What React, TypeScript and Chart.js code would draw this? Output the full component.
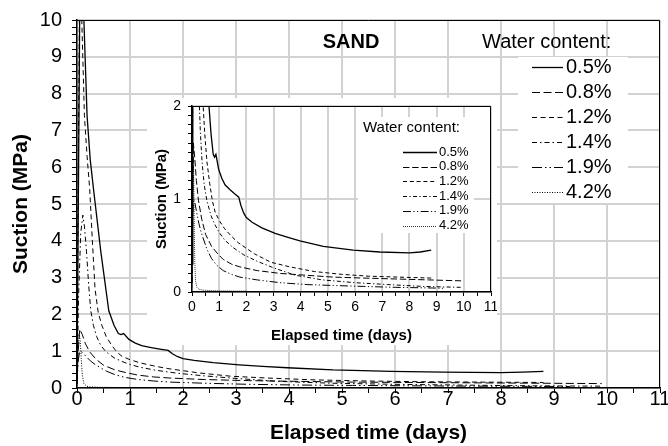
import React, { useEffect, useRef } from 'react';
import { Chart, registerables } from 'chart.js';

Chart.register(...registerables);

const FONT = '"Liberation Sans", Arial, Helvetica, sans-serif';

// ---- series labels ----
const seriesNames = ['0.5%', '0.8%', '1.2%', '1.4%', '1.9%', '4.2%'];

// ---- elapsed time (days) and suction (MPa) per series ----
const t05 = [0, 0.03, 0.06, 0.13, 0.19, 0.25, 0.32, 0.45, 0.6, 0.7, 0.78, 0.83, 0.88, 0.98, 1.1, 1.22, 1.4, 1.59, 1.72, 1.8, 1.9, 2.0, 2.21, 2.57, 3.06, 3.5, 3.97, 4.83, 5.93, 6.91, 8.0, 8.4, 8.8];
const s05 = [0.3, 6, 12, 10, 7.4, 6.2, 5.3, 3.7, 2.1, 1.7, 1.48, 1.45, 1.48, 1.32, 1.22, 1.15, 1.1, 1.05, 1.02, 0.93, 0.85, 0.8, 0.75, 0.69, 0.63, 0.59, 0.55, 0.49, 0.45, 0.43, 0.42, 0.43, 0.45];

const t08 = [0, 0.02, 0.05, 0.1, 0.16, 0.24, 0.36, 0.5, 0.72, 0.95, 1.15, 1.45, 1.76, 2.4, 3.24, 4.2, 5.2, 6.3, 7.5, 8.7, 9.9];
const s08 = [0.1, 0.9, 1.6, 1.45, 1.2, 0.98, 0.78, 0.62, 0.49, 0.41, 0.35, 0.3, 0.27, 0.23, 0.2, 0.18, 0.16, 0.15, 0.14, 0.13, 0.12];

const t12 = [0, 0.02, 0.05, 0.09, 0.14, 0.19, 0.24, 0.29, 0.34, 0.4, 0.47, 0.55, 0.65, 0.75, 0.85, 1.0, 1.2, 1.45, 1.7, 2.0, 2.3, 2.9, 3.6, 4.5, 5.5, 6.5, 7.6, 8.8];
const s12 = [0.2, 5, 11, 10, 7.4, 6.3, 5.4, 4.0, 2.7, 2.05, 1.7, 1.4, 1.17, 0.98, 0.86, 0.77, 0.68, 0.6, 0.53, 0.47, 0.41, 0.32, 0.27, 0.22, 0.19, 0.17, 0.16, 0.15];

const t14 = [0, 0.03, 0.07, 0.11, 0.14, 0.18, 0.22, 0.26, 0.31, 0.37, 0.45, 0.55, 0.7, 0.85, 1.0, 1.2, 1.5, 1.9, 2.4, 3.0, 3.8, 4.8, 6.0, 7.2, 8.5, 9.9];
const s14 = [0.2, 2.5, 4.2, 4.7, 4.4, 3.7, 2.8, 2.1, 1.7, 1.4, 1.15, 0.98, 0.82, 0.72, 0.64, 0.56, 0.48, 0.4, 0.33, 0.26, 0.18, 0.13, 0.1, 0.08, 0.06, 0.05];

const t19 = [0, 0.02, 0.05, 0.1, 0.17, 0.25, 0.34, 0.42, 0.55, 0.72, 0.9, 1.15, 1.45, 1.76, 2.4, 3.24, 4.2, 5.2, 6.3, 7.5, 8.5, 9.3];
const s19 = [0.1, 0.7, 1.0, 0.97, 0.86, 0.74, 0.64, 0.57, 0.46, 0.36, 0.29, 0.23, 0.19, 0.16, 0.13, 0.1, 0.08, 0.07, 0.06, 0.05, 0.045, 0.04];

const t42 = [0, 0.02, 0.04, 0.06, 0.08, 0.1, 0.13, 0.18, 0.25, 0.4, 0.7, 1.0, 1.5, 2.0];
const s42 = [0.05, 0.9, 1.45, 1.3, 0.8, 0.35, 0.12, 0.05, 0.03, 0.02, 0.015, 0.012, 0.01, 0.01];

const seriesTimes = [t05, t08, t12, t14, t19, t42];
const seriesSuction = [s05, s08, s12, s14, s19, s42];

// ---- tick labels ----
const mainXTicks = [0, 1, 2, 3, 4, 5, 6, 7, 8, 9, 10, 11];
const mainYTicks = [0, 1, 2, 3, 4, 5, 6, 7, 8, 9, 10];
const insetXTicks = [0, 1, 2, 3, 4, 5, 6, 7, 8, 9, 10, 11];
const insetYTicks = [0, 1, 2];

// ---- line styles ----
const dashes = [[], [8, 3.5], [5, 3.5], [5, 3, 1.5, 3], [10, 3, 1.5, 3, 1.5, 3], [1, 1.5]];
const GRID = '#d2d2d2';

const round = (v: number) => Math.round(v * 1000) / 1000;

function makeDatasets(dashScale: number, widths: number[]) {
  return seriesNames.map((name, i) => ({
    label: name,
    data: seriesTimes[i].map((x, j) => ({ x, y: seriesSuction[i][j] })),
    borderColor: '#000',
    backgroundColor: '#000',
    borderWidth: widths[i],
    borderDash: dashes[i].map((d) => d * dashScale),
    pointRadius: 0,
    pointHoverRadius: 0,
    tension: 0,
    fill: false,
  }));
}

function axis(opts: any) {
  const { min, max, step, labels, fontSize, tickLen, pad, title, titleSize, titlePad, borderW, fit } = opts;
  return {
    type: 'linear',
    min,
    max,
    afterFit: fit,
    ticks: {
      stepSize: step,
      autoSkip: false,
      maxRotation: 0,
      minRotation: 0,
      padding: pad,
      color: '#000',
      font: { family: FONT, size: fontSize },
      callback: (v: any) => (labels.includes(round(Number(v))) ? String(round(Number(v))) : ''),
    },
    grid: {
      display: true,
      drawOnChartArea: false,
      color: '#000',
      tickColor: '#000',
      tickLength: tickLen,
      tickWidth: 1,
      lineWidth: 1,
    },
    border: { color: '#000', width: borderW },
    title: {
      display: true,
      text: title,
      color: '#000',
      font: { family: FONT, size: titleSize, weight: 'bold' },
      padding: titlePad,
    },
  };
}

function decorPlugin(id: string, cfg: any) {
  return {
    id,
    beforeDraw(chart: any) {
      const c = chart.ctx;
      const a = chart.chartArea;
      const xs = chart.scales.x;
      const ys = chart.scales.y;
      c.save();
      c.fillStyle = '#fff';
      c.fillRect(0, 0, chart.width, chart.height);
      // major gridlines (drawn from the tick-label arrays through the scales)
      c.strokeStyle = GRID;
      c.lineWidth = 2;
      c.setLineDash([]);
      cfg.xTicks.forEach((v: number) => {
        const px = Math.round(xs.getPixelForValue(v));
        c.beginPath();
        c.moveTo(px, a.top);
        c.lineTo(px, a.bottom);
        c.stroke();
      });
      cfg.yTicks.forEach((v: number) => {
        const py = Math.round(ys.getPixelForValue(v));
        c.beginPath();
        c.moveTo(a.left, py);
        c.lineTo(a.right, py);
        c.stroke();
      });
      c.restore();
    },
    afterDraw(chart: any) {
      const c = chart.ctx;
      const a = chart.chartArea;
      c.save();
      // frame
      c.strokeStyle = '#000';
      c.lineWidth = 1;
      c.beginPath();
      c.moveTo(a.left, a.top + 0.5);
      c.lineTo(a.right - 0.5, a.top + 0.5);
      c.lineTo(a.right - 0.5, a.bottom);
      c.stroke();
      // legend box
      c.fillStyle = '#fff';
      c.fillRect(cfg.box[0], cfg.box[1], cfg.box[2], cfg.box[3]);
      c.fillStyle = '#000';
      c.textBaseline = 'middle';
      c.textAlign = 'left';
      c.font = `${cfg.titleSize}px ${FONT}`;
      c.fillText('Water content:', cfg.titleX, cfg.titleY);
      if (cfg.sand) {
        c.font = `bold ${cfg.sand.size}px ${FONT}`;
        c.textAlign = 'center';
        c.fillText('SAND', cfg.sand.x, cfg.sand.y);
        c.textAlign = 'left';
      }
      c.font = `${cfg.itemSize}px ${FONT}`;
      seriesNames.forEach((name, i) => {
        const y = cfg.y0 + cfg.dy * i;
        c.beginPath();
        c.setLineDash(dashes[i].map((d) => d * cfg.dashScale));
        c.lineWidth = i === 0 ? cfg.w0 : cfg.w;
        c.strokeStyle = '#000';
        c.moveTo(cfg.lx0, Math.round(y) + 0.5);
        c.lineTo(cfg.lx1, Math.round(y) + 0.5);
        c.stroke();
        c.setLineDash([]);
        c.fillText(name, cfg.tx, y);
      });
      c.restore();
    },
  };
}

export default function App() {
  const mainRef = useRef<HTMLCanvasElement>(null);
  const insetRef = useRef<HTMLCanvasElement>(null);

  useEffect(() => {
    const main = new Chart(mainRef.current as HTMLCanvasElement, {
      type: 'line',
      data: { datasets: makeDatasets(1, [1.3, 1, 1, 1, 1, 1]) as any },
      options: {
        animation: false,
        responsive: false,
        devicePixelRatio: 1,
        layout: { padding: { left: 0, top: 20, right: 8, bottom: 0 } },
        plugins: { legend: { display: false }, tooltip: { enabled: false } },
        scales: {
          x: axis({
            min: 0, max: 11, step: 0.5, labels: mainXTicks, fontSize: 20, tickLen: 5, pad: -6,
            title: 'Elapsed time (days)', titleSize: 21, titlePad: { top: 0, bottom: 0 }, borderW: 1.5,
            fit: (s: any) => { s.height = 58; s.paddingLeft = 0; s.paddingRight = 0; },
          }),
          y: axis({
            min: 0, max: 10, step: 0.2, labels: mainYTicks, fontSize: 20, tickLen: 5, pad: 10,
            title: 'Suction (MPa)', titleSize: 21, titlePad: { top: 9, bottom: 0 }, borderW: 1.5,
            fit: (s: any) => { s.width = 77; s.paddingTop = 0; s.paddingBottom = 0; },
          }),
        } as any,
      },
      plugins: [
        decorPlugin('mainDecor', {
          xTicks: mainXTicks, yTicks: mainYTicks,
          box: [518, 57, 110, 146], titleSize: 20, titleX: 482, titleY: 42,
          sand: { size: 20, x: 351, y: 42 }, itemSize: 20, y0: 67, dy: 25,
          lx0: 532, lx1: 563, tx: 566, dashScale: 1, w0: 1.3, w: 1,
        }),
      ],
    });

    const inset = new Chart(insetRef.current as HTMLCanvasElement, {
      type: 'line',
      data: { datasets: makeDatasets(0.8, [1.3, 1, 1, 1, 1, 1]) as any },
      options: {
        animation: false,
        responsive: false,
        devicePixelRatio: 1,
        layout: { padding: { left: 0, top: 8, right: 6, bottom: 0 } },
        plugins: { legend: { display: false }, tooltip: { enabled: false } },
        scales: {
          x: axis({
            min: 0, max: 11, step: 0.5, labels: insetXTicks, fontSize: 14, tickLen: 4, pad: 3,
            title: 'Elapsed time (days)', titleSize: 15, titlePad: { top: 0, bottom: 0 }, borderW: 1.5,
            fit: (s: any) => { s.height = 53; s.paddingLeft = 0; s.paddingRight = 0; },
          }),
          y: axis({
            min: 0, max: 2, step: 0.1, labels: insetYTicks, fontSize: 14, tickLen: 4, pad: 7,
            title: 'Suction (MPa)', titleSize: 15, titlePad: { top: 6, bottom: 0 }, borderW: 1.5,
            fit: (s: any) => { s.width = 45; s.paddingTop = 0; s.paddingBottom = 0; },
          }),
        } as any,
      },
      plugins: [
        decorPlugin('insetDecor', {
          xTicks: insetXTicks, yTicks: insetYTicks,
          box: [211, 19, 116, 116], titleSize: 15, titleX: 216, titleY: 30,
          itemSize: 13, y0: 54, dy: 14.7,
          lx0: 256, lx1: 290, tx: 292, dashScale: 0.8, w0: 1.3, w: 1,
        }),
      ],
    });

    return () => {
      main.destroy();
      inset.destroy();
    };
  }, []);

  return (
    <div style={{ position: 'fixed', left: 0, top: 0, width: 668, height: 446, background: '#fff', overflow: 'hidden' }}>
      <canvas ref={mainRef} width={668} height={446} style={{ position: 'absolute', left: 0, top: 0, display: 'block' }} />
      <canvas ref={insetRef} width={350} height={247} style={{ position: 'absolute', left: 147, top: 98, display: 'block' }} />
    </div>
  );
}
